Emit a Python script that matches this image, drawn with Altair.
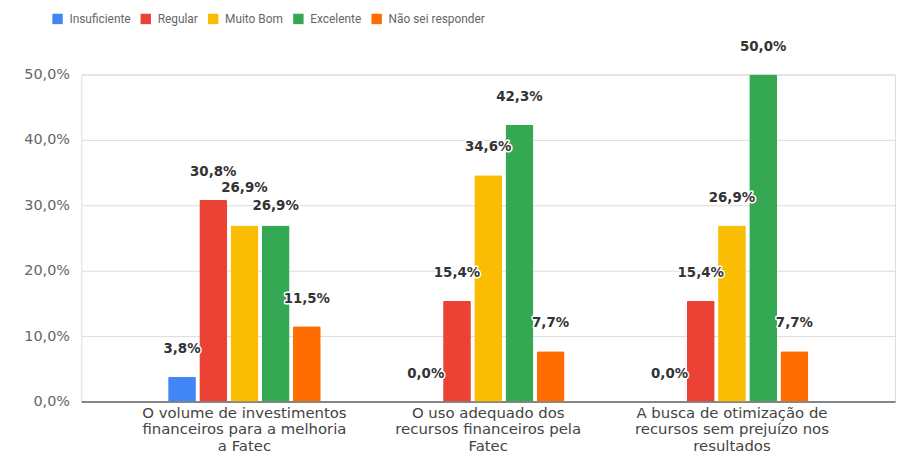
import altair as alt
import pandas as pd

categories = [
    "O volume de investimentos\nfinanceiros para a melhoria\na Fatec",
    "O uso adequado dos\nrecursos financeiros pela\nFatec",
    "A busca de otimização de\nrecursos sem prejuízo nos\nresultados",
]
series = ["Insuficiente", "Regular", "Muito Bom", "Excelente", "Não sei responder"]
insuficiente = [3.8, 0.0, 0.0]
regular = [30.8, 15.4, 15.4]
muito_bom = [26.9, 34.6, 26.9]
excelente = [26.9, 42.3, 50.0]
nao_sei = [11.5, 7.7, 7.7]
colors = ["#4285F4", "#EA4335", "#FBBC04", "#34A853", "#FF6D01"]

values = [insuficiente, regular, muito_bom, excelente, nao_sei]
rows = []
for si, s in enumerate(series):
    for ci, c in enumerate(categories):
        v = values[si][ci]
        rows.append({
            "cat": c, "ci": ci, "series": s, "si": si, "value": v,
            "label": f"{v:.1f}".replace(".", ",") + "%",
        })
df = pd.DataFrame(rows)

WIDE = "DejaVu Sans"
FONT = "Roboto"

x_enc = alt.X(
    "cat:N", sort=categories, title=None,
    scale=alt.Scale(paddingInner=0.374, paddingOuter=0.356),
    axis=alt.Axis(
        labelExpr="split(datum.label, '\\n')", labelAngle=0, ticks=False,
        labelPadding=4, labelFontSize=15, labelColor="#444", labelFont=WIDE,
        labelLineHeight=16.5, labelBaseline="top", domainColor="#666", domainWidth=1.3,
        grid=False, labelOverlap=False, labelLimit=400,
    ),
)
xoff = alt.XOffset("series:N", sort=series,
                   scale=alt.Scale(paddingInner=0.11, paddingOuter=0))
y_enc = alt.Y(
    "value:Q", title=None,
    scale=alt.Scale(domain=[0, 50], nice=False),
    axis=alt.Axis(
        values=[0, 10, 20, 30, 40, 50], domain=False, ticks=False,
        labelExpr="replace(format(datum.value, '.1f'), '.', ',') + '%'",
        labelPadding=12, labelFontSize=14.5, labelColor="#666", labelFont=WIDE,
        gridColor="#dcdcdc", gridWidth=1,
    ),
)

base = alt.Chart(df)

bars = base.mark_bar(cornerRadiusTopLeft=1.5, cornerRadiusTopRight=1.5).encode(
    x=x_enc, xOffset=xoff, y=y_enc,
    color=alt.Color(
        "series:N", sort=series, scale=alt.Scale(domain=series, range=colors),
        legend=alt.Legend(
            title=None, orient="none", direction="horizontal", legendX=-30, legendY=-62,
            symbolType="square", symbolSize=110, symbolStrokeWidth=0,
            labelFontSize=12, labelColor="#666", labelFont=FONT,
            labelOffset=6, columnPadding=9,
        ),
    ),
)

def labels(dy, cond):
    enc = dict(x=alt.X("cat:N", sort=categories), xOffset=alt.XOffset("series:N", sort=series),
               y=alt.Y("value:Q"), text="label:N")
    halo = base.transform_filter(cond).mark_text(
        dy=dy, fontSize=13.5, fontWeight="bold", font=WIDE, color="white",
        stroke="white", strokeWidth=3, strokeJoin="round", baseline="middle").encode(**enc)
    txt = base.transform_filter(cond).mark_text(
        dy=dy, fontSize=13.5, fontWeight="bold", font=WIDE, color="#333",
        baseline="middle").encode(**enc)
    return [halo, txt]

normal = "!(datum.ci == 0 && (datum.series == 'Muito Bom' || datum.series == 'Excelente'))"
up = "datum.ci == 0 && datum.series == 'Muito Bom'"
down = "datum.ci == 0 && datum.series == 'Excelente'"

layers = [bars] + labels(-28, normal) + labels(-38, up) + labels(-20, down)

chart = alt.layer(*layers).properties(
    width=821, height=330,
    padding={"left": 74, "top": 65, "right": 4, "bottom": 62},
    autosize=alt.AutoSizeParams(type="none"),
).configure_view(stroke=None).configure(background="white")

chart.save("out.html", embed_options={"renderer": "svg", "actions": False})
